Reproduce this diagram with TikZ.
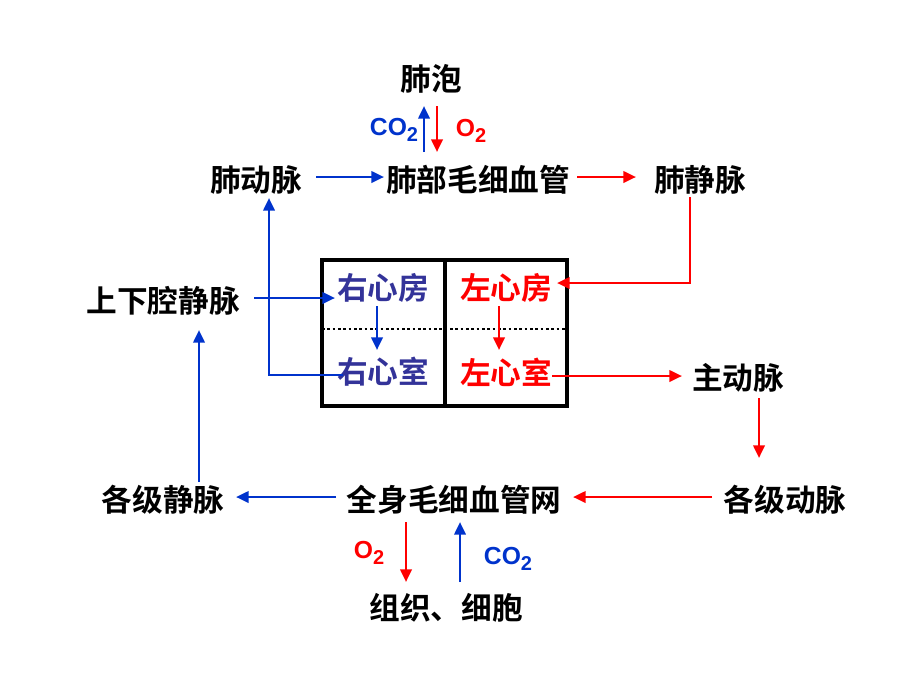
\documentclass[tikz,border=0pt]{standalone}
\usepackage{fontspec}
\setmainfont{Liberation Sans}
\newfontfamily\cjk[BoldFont={Noto Sans CJK SC Bold}]{Noto Sans CJK SC}
\usetikzlibrary{arrows.meta,calc,positioning}
\definecolor{arrblue}{RGB}{0,51,204}
\definecolor{heartblue}{RGB}{51,51,153}
\newcommand{\gsub}[1]{\raisebox{-0.5ex}{\fontsize{15}{17}\selectfont #1}}

\begin{document}
\begin{tikzpicture}
  [
    x=0.75pt, y=-0.75pt,
    organ/.style={font=\cjk\bfseries\fontsize{23}{27}\selectfont, inner sep=1pt},
    gas/.style={font=\bfseries\fontsize{18.5}{22}\selectfont, inner sep=1pt},
    bluearr/.style={draw=arrblue, line width=2pt, -{Triangle[length=9.5pt,width=8.5pt]}},
    redarr/.style={draw=red, line width=2pt, -{Triangle[length=9.5pt,width=8.5pt]}},
    wall/.style={draw, line width=2.4pt},
  ]
  \useasboundingbox (0,0) rectangle (920,690);

  \node (alv) [organ] at (431,79) {肺泡};
  \node (pa) [organ] at (256,180) {肺动脉};
  \node (cap) [organ] at (478,180) {肺部毛细血管};
  \node (pv) [organ] at (700,180) {肺静脉};
  \node (vc) [organ] at (163,301) {上下腔静脉};
  \node (ra) [organ, text=heartblue] at (383,288) {右心房};
  \node (la) [organ, text=red] at (506,288) {左心房};
  \node (rv) [organ, text=heartblue] at (383,372) {右心室};
  \node (lv) [organ, text=red] at (506,372) {左心室};
  \node (ao) [organ] at (738,378) {主动脉};
  \node (art) [organ] at (785,500) {各级动脉};
  \node (body) [organ] at (454,500) {全身毛细血管网};
  \node (vein) [organ] at (163,500) {各级静脉};
  \node (cell) [organ] at (446,608) {组织、细胞};

  \node (co2up) [gas, text=arrblue] at (394,130) {CO\gsub{2}};
  \node (o2up) [gas, text=red] at (471,131) {O\gsub{2}};
  \node (o2dn) [gas, text=red] at (369,553) {O\gsub{2}};
  \node (co2dn) [gas, text=arrblue] at (508,559) {CO\gsub{2}};

  % heart
  \draw [wall] (322,260) rectangle (567,406);
  \draw [wall] (445,260) -- (445,406);
  \draw [line width=2pt, dash pattern=on 2pt off 2pt] (322,329) -- (567,329);

  % lung circuit
  \draw [bluearr] ($(cap)+(-54,-28)$) -- ($(alv)+(-7,27)$);
  \draw [redarr] ($(alv)+(6,27)$) -- ($(cap)+(-41,-28)$);
  \draw [bluearr] ($(pa)+(60,-3)$) -- ($(cap)+(-94,-3)$);
  \draw [redarr] ($(cap)+(99,-3)$) -- ($(pv)+(-64,-3)$);
  \draw [redarr] ($(pv)+(-10,17)$) |- ($(la)+(51,-5)$);
  \draw [bluearr] ($(rv)+(-40,3)$) -| ($(pa)+(13,18)$);

  % heart inside
  \draw [bluearr] ($(ra)+(-6,18)$) -- ($(rv)+(-6,-22)$);
  \draw [redarr] ($(la)+(-7,18)$) -- ($(lv)+(-7,-22)$);

  % body circuit
  \draw [bluearr] ($(vc)+(91,-3)$) -- ($(ra)+(-48,10)$);
  \draw [redarr] ($(lv)+(46,4)$) -- ($(ao)+(-56,-2)$);
  \draw [redarr] ($(ao)+(21,20)$) -- ($(art)+(-26,-42)$);
  \draw [redarr] ($(art)+(-73,-3)$) -- ($(body)+(119,-3)$);
  \draw [bluearr] ($(body)+(-118,-3)$) -- ($(vein)+(73,-3)$);
  \draw [bluearr] ($(vein)+(36,-18)$) -- ($(vc)+(36,29)$);
  \draw [redarr] ($(body)+(-48,22)$) -- ($(cell)+(-40,-26)$);
  \draw [bluearr] ($(cell)+(14,-26)$) -- ($(body)+(6,22)$);
\end{tikzpicture}
\end{document}
